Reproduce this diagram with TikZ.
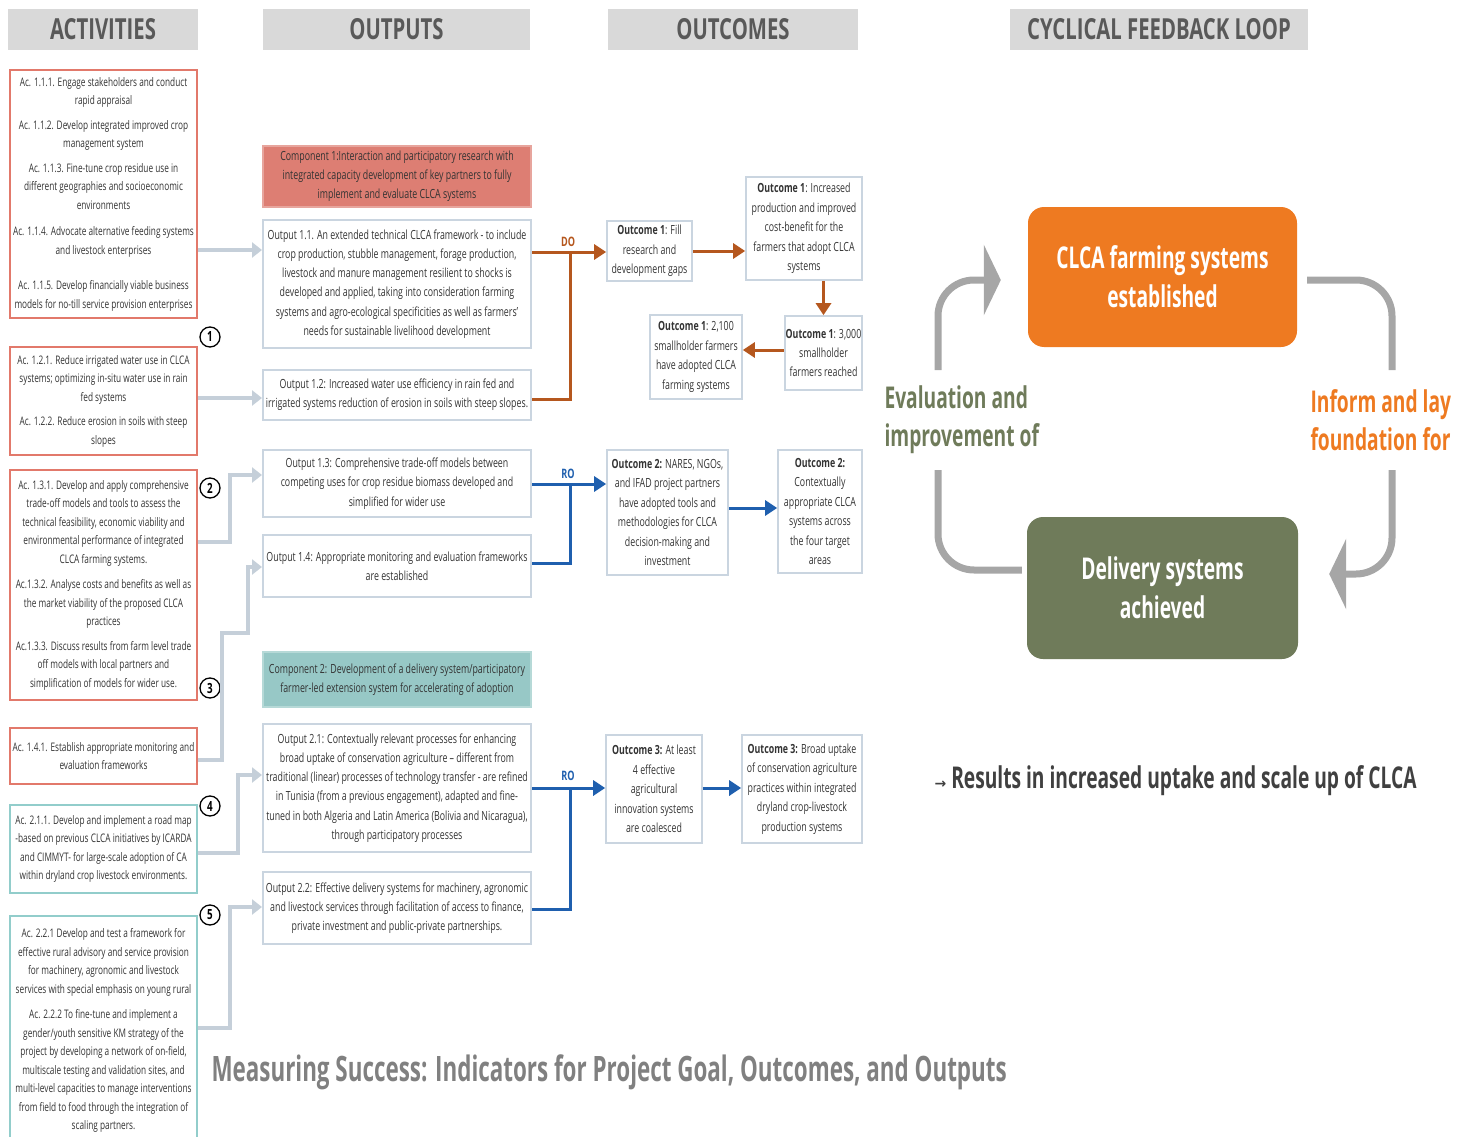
\documentclass[tikz,border=0pt]{standalone}
\usepackage{fontspec}
\setmainfont{Open Sans}[FakeStretch=0.7]
\newfontfamily\bigfont{Open Sans}[FakeStretch=0.64]
\newfontfamily\symfont{DejaVu Sans}
\usetikzlibrary{arrows.meta}

\definecolor{headgray}{HTML}{D9D9D9}
\definecolor{headtext}{HTML}{595959}
\definecolor{bodytext}{HTML}{333333}
\definecolor{actred}{HTML}{E2796B}
\definecolor{actteal}{HTML}{92CDCB}
\definecolor{outline}{HTML}{CAD5E0}
\definecolor{comp1fill}{HTML}{DD7E73}
\definecolor{comp2fill}{HTML}{97C8C6}
\definecolor{feedgray}{HTML}{C5CFD9}
\definecolor{dobrown}{HTML}{B5571E}
\definecolor{roblue}{HTML}{1F5FAE}
\definecolor{estorange}{HTML}{EE7A21}
\definecolor{dlvgreen}{HTML}{6F7B5A}
\definecolor{cycgray}{HTML}{A6A6A6}

\begin{document}
\begin{tikzpicture}[x=1pt,y=-1pt,
    head/.style={fill=headgray, text=headtext, minimum height=41pt, inner sep=0pt,
        font=\fontsize{29}{30}\selectfont\bfseries},
    act/.style={draw=actred, line width=2.2pt, minimum width=187pt, inner sep=1pt,
        align=center, text=bodytext, font=\fontsize{11.8}{18.5}\selectfont},
    actb/.style={act, draw=actteal},
    outbox/.style={draw=outline, line width=2pt, minimum width=268pt, inner sep=1pt,
        align=center, text=bodytext, font=\fontsize{12.6}{19.2}\selectfont},
    comp/.style={outbox, draw=#1!70!white, fill=#1},
    ocbox/.style={draw=outline, line width=1.6pt, inner sep=1pt,
        align=center, text=bodytext, font=\fontsize{12.6}{19.4}\selectfont},
    num/.style={circle, draw, line width=1.3pt, fill=white, minimum size=20pt, inner sep=0pt,
        font=\fontsize{14}{14}\selectfont\bfseries},
    feed/.style={draw=feedgray, line width=3.5pt, -{Triangle[length=10pt,width=15pt]}},
    do/.style={draw=dobrown, line width=3pt, -{Triangle[length=12pt,width=15pt]}},
    ro/.style={do, draw=roblue},
    lnk/.style={text=#1, font=\fontsize{13}{13}\selectfont\bfseries},
    loopbox/.style={fill=#1, text=white, rounded corners=16pt, align=center,
        font=\bigfont\fontsize{30}{39}\selectfont\bfseries},
    loopnote/.style={anchor=west, align=left, text=#1, font=\bigfont\fontsize{30}{38}\selectfont\bfseries},
    cyc/.style={draw=cycgray, line width=7pt, rounded corners=36pt},
    cyctip/.style={cyc, -{Triangle[length=17pt,width=70pt]}},
    ]
\useasboundingbox (0,0) rectangle (1465,1137);

% headers
\node[head, minimum width=190pt] (hact) at (103,29.5) {ACTIVITIES};
\node[head, minimum width=267pt] (hout) at (396.5,29.5) {OUTPUTS};
\node[head, minimum width=250pt] (hoc) at (733,29.5) {OUTCOMES};
\node[head, minimum width=298pt] (hcyc) at (1159,29.5) {CYCLICAL FEEDBACK LOOP};

% activities
\node[act, minimum height=248pt] (a1) at (103.5,194) {Ac. 1.1.1. Engage stakeholders and conduct\\rapid appraisal\\[6pt]
    Ac. 1.1.2. Develop integrated improved crop\\management system\\[6pt]
    Ac. 1.1.3. Fine-tune crop residue use in\\different geographies and socioeconomic\\environments\\[8pt]
    Ac. 1.1.4. Advocate alternative feeding systems\\and livestock enterprises\\[17pt]
    Ac. 1.1.5. Develop financially viable business\\models for no-till service provision enterprises};
\node[act, minimum height=108pt] (a2) at (103.5,401) {Ac. 1.2.1. Reduce irrigated water use in CLCA\\systems; optimizing in-situ water use in rain\\fed systems\\[6pt]
    Ac. 1.2.2. Reduce erosion in soils with steep\\slopes};
\node[act, minimum height=230pt] (a3) at (103.5,585) {Ac. 1.3.1. Develop and apply comprehensive\\trade-off models and tools to assess the\\technical feasibility, economic viability and\\environmental performance of integrated\\CLCA farming systems.\\[7pt]
    Ac.1.3.2. Analyse costs and benefits as well as\\the market viability of the proposed CLCA\\practices\\[6pt]
    Ac.1.3.3. Discuss results from farm level trade\\off models with local partners and\\simplification of models for wider use.};
\node[act, minimum height=56pt] (a4) at (103.5,756) {Ac. 1.4.1. Establish appropriate monitoring and\\evaluation frameworks};
\node[actb, minimum height=88pt] (a5) at (103.5,849) {Ac. 2.1.1. Develop and implement a road map\\-based on previous CLCA initiatives by ICARDA\\and CIMMYT- for large-scale adoption of CA\\within dryland crop livestock environments.};
\node[actb, minimum height=229pt] (a6) at (103.5,1030.5) {Ac. 2.2.1 Develop and test a framework for\\effective rural advisory and service provision\\for machinery, agronomic and livestock\\services with special emphasis on young rural\\[7pt]
    Ac. 2.2.2 To fine-tune and implement a\\gender/youth sensitive KM strategy of the\\project by developing a network of on-field,\\multiscale testing and validation sites, and\\multi-level capacities to manage interventions\\from field to food through the integration of\\scaling partners.};

\node[num] (n1) at (210,337) {1};
\node[num] (n2) at (210,488) {2};
\node[num] (n3) at (210,688) {3};
\node[num] (n4) at (210,806) {4};
\node[num] (n5) at (210,915) {5};

% outputs
\node[comp=comp1fill, minimum height=61pt] (c1) at (397,176.5) {Component 1:Interaction and participatory research with\\integrated capacity development of key partners to fully\\implement and evaluate CLCA systems};
\node[outbox, minimum height=128pt] (o11) at (397,284) {Output 1.1. An extended technical CLCA framework - to include\\crop production, stubble management, forage production,\\livestock and manure management resilient to shocks is\\developed and applied, taking into consideration farming\\systems and agro-ecological specificities as well as farmers’\\needs for sustainable livelihood development};
\node[outbox, minimum height=50pt] (o12) at (397,395) {Output 1.2: Increased water use efficiency in rain fed and\\irrigated systems reduction of erosion in soils with steep slopes.};
\node[outbox, minimum height=67pt] (o13) at (397,483.5) {Output 1.3: Comprehensive trade-off models between\\competing uses for crop residue biomass developed and\\simplified for wider use};
\node[outbox, minimum height=62pt] (o14) at (397,566) {Output 1.4: Appropriate monitoring and evaluation frameworks\\are established};
\node[comp=comp2fill, minimum height=55pt] (c2) at (397,679.5) {Component 2: Development of a delivery system/participatory\\farmer-led extension system for accelerating of adoption};
\node[outbox, minimum height=128pt] (o21) at (397,788) {Output 2.1: Contextually relevant processes for enhancing\\broad uptake of conservation agriculture – different from\\traditional (linear) processes of technology transfer - are refined\\in Tunisia (from a previous engagement), adapted and fine-\\tuned in both Algeria and Latin America (Bolivia and Nicaragua),\\through participatory processes};
\node[outbox, minimum height=72pt] (o22) at (397,908) {Output 2.2: Effective delivery systems for machinery, agronomic\\and livestock services through facilitation of access to finance,\\private investment and public-private partnerships.};

% outcomes
\node[ocbox, minimum width=85pt, minimum height=60pt] (oc1a) at (649.5,251) {\textbf{Outcome 1}: Fill\\research and\\development gaps};
\node[ocbox, minimum width=116pt, minimum height=103pt] (oc1b) at (804,228.5) {\textbf{Outcome 1}: Increased\\production and improved\\cost-benefit for the\\farmers that adopt CLCA\\systems};
\node[ocbox, minimum width=77pt, minimum height=74pt] (oc1c) at (823.5,353) {\textbf{Outcome 1}: 3,000\\smallholder\\farmers reached};
\node[ocbox, minimum width=92pt, minimum height=84pt] (oc1d) at (696,357) {\textbf{Outcome 1}: 2,100\\smallholder farmers\\have adopted CLCA\\farming systems};
\node[ocbox, minimum width=121pt, minimum height=125pt] (oc2a) at (667.5,512.5) {\textbf{Outcome 2:} NARES, NGOs,\\and IFAD project partners\\have adopted tools and\\methodologies for CLCA\\decision-making and\\investment};
\node[ocbox, minimum width=84pt, minimum height=123pt] (oc2b) at (820,511.5) {\textbf{Outcome 2:}\\Contextually\\appropriate CLCA\\systems across\\the four target\\areas};
\node[ocbox, minimum width=96pt, minimum height=108pt] (oc3a) at (654,789) {\textbf{Outcome 3:} At least\\4 effective\\agricultural\\innovation systems\\are coalesced};
\node[ocbox, minimum width=120pt, minimum height=108pt] (oc3b) at (802,789) {\textbf{Outcome 3:} Broad uptake\\of conservation agriculture\\practices within integrated\\dryland crop-livestock\\production systems};

% activities -> outputs
\draw[feed] (a1.east |- 0,250) -- (o11.west |- 0,250);
\draw[feed] (a2.east |- 0,398) -- (o12.west |- 0,398);
\draw[feed] (a3.east |- 0,542) -| (230,475) -- (o13.west |- 0,475);
\draw[feed] (a4.east |- 0,760) -| (222,633) -| (248,567) -- (o14.west |- 0,567);
\draw[feed] (a5.east |- 0,853) -| (238,775) -- (o21.west |- 0,775);
\draw[feed] (a6.east |- 0,1028) -| (230,907) -- (o22.west |- 0,907);

% outputs -> outcomes
\draw[do] (o11.east |- 0,252) -- (oc1a.west |- 0,252);
\draw[do, -] (o12.east |- 0,399) -| (570,252);
\node[lnk=dobrown] (dolbl) at (568,242) {DO};
\draw[do] (oc1a.east |- 0,251) -- (oc1b.west |- 0,251);
\draw[do] (oc1b.south -| oc1c.north) -- (oc1c.north);
\draw[do] (oc1c.west |- 0,350) -- (oc1d.east |- 0,350);

\draw[ro] (o13.east |- 0,484) -- (oc2a.west |- 0,484);
\draw[ro, -] (o14.east |- 0,563) -| (570,484);
\node[lnk=roblue] (rolbl1) at (568,474) {RO};
\draw[ro] (oc2a.east |- 0,508) -- (oc2b.west |- 0,508);

\draw[ro] (o21.east |- 0,788) -- (oc3a.west |- 0,788);
\draw[ro, -] (o22.east |- 0,909) -| (570,788);
\node[lnk=roblue] (rolbl2) at (568,776) {RO};
\draw[ro] (oc3a.east |- 0,788) -- (oc3b.west |- 0,788);

% feedback loop
\node[loopbox=estorange, minimum width=269pt, minimum height=140pt] (est) at (1162.5,277) {CLCA farming systems\\established};
\node[loopbox=dlvgreen, minimum width=271pt, minimum height=142pt] (dlv) at (1162.5,588) {Delivery systems\\achieved};
\node[loopnote=dlvgreen] (evl) at (881,420) {Evaluation and\\improvement of};
\node[loopnote=estorange] (inf) at (1307,420) {Inform and lay\\foundation for};
\coordinate (evlbot) at (938,470);
\coordinate (evltop) at (938,370);
\coordinate (infbot) at (1392,470);
\coordinate (inftop) at (1392,370);
\draw[cyc] ([xshift=-5pt,yshift=18pt]dlv.west) -| (evlbot);
\draw[cyctip] (evltop) |- ([xshift=-27pt,yshift=-3pt]est.west);
\draw[cyc] ([xshift=10pt,yshift=-3pt]est.east) -| (inftop);
\draw[cyctip] (infbot) |- ([xshift=31pt,yshift=14pt]dlv.east);

\node[anchor=west, text=black!75, font=\bigfont\fontsize{30}{30}\selectfont\bfseries] (res) at (931,781) {{\symfont\fontsize{14}{14}\selectfont →} Results in increased uptake and scale up of CLCA};
\node[anchor=west, text=black!50, font=\bigfont\fontsize{35}{35}\selectfont\bfseries] (msr) at (208,1072) {Measuring Success: Indicators for Project Goal, Outcomes, and Outputs};
\end{tikzpicture}
\end{document}
